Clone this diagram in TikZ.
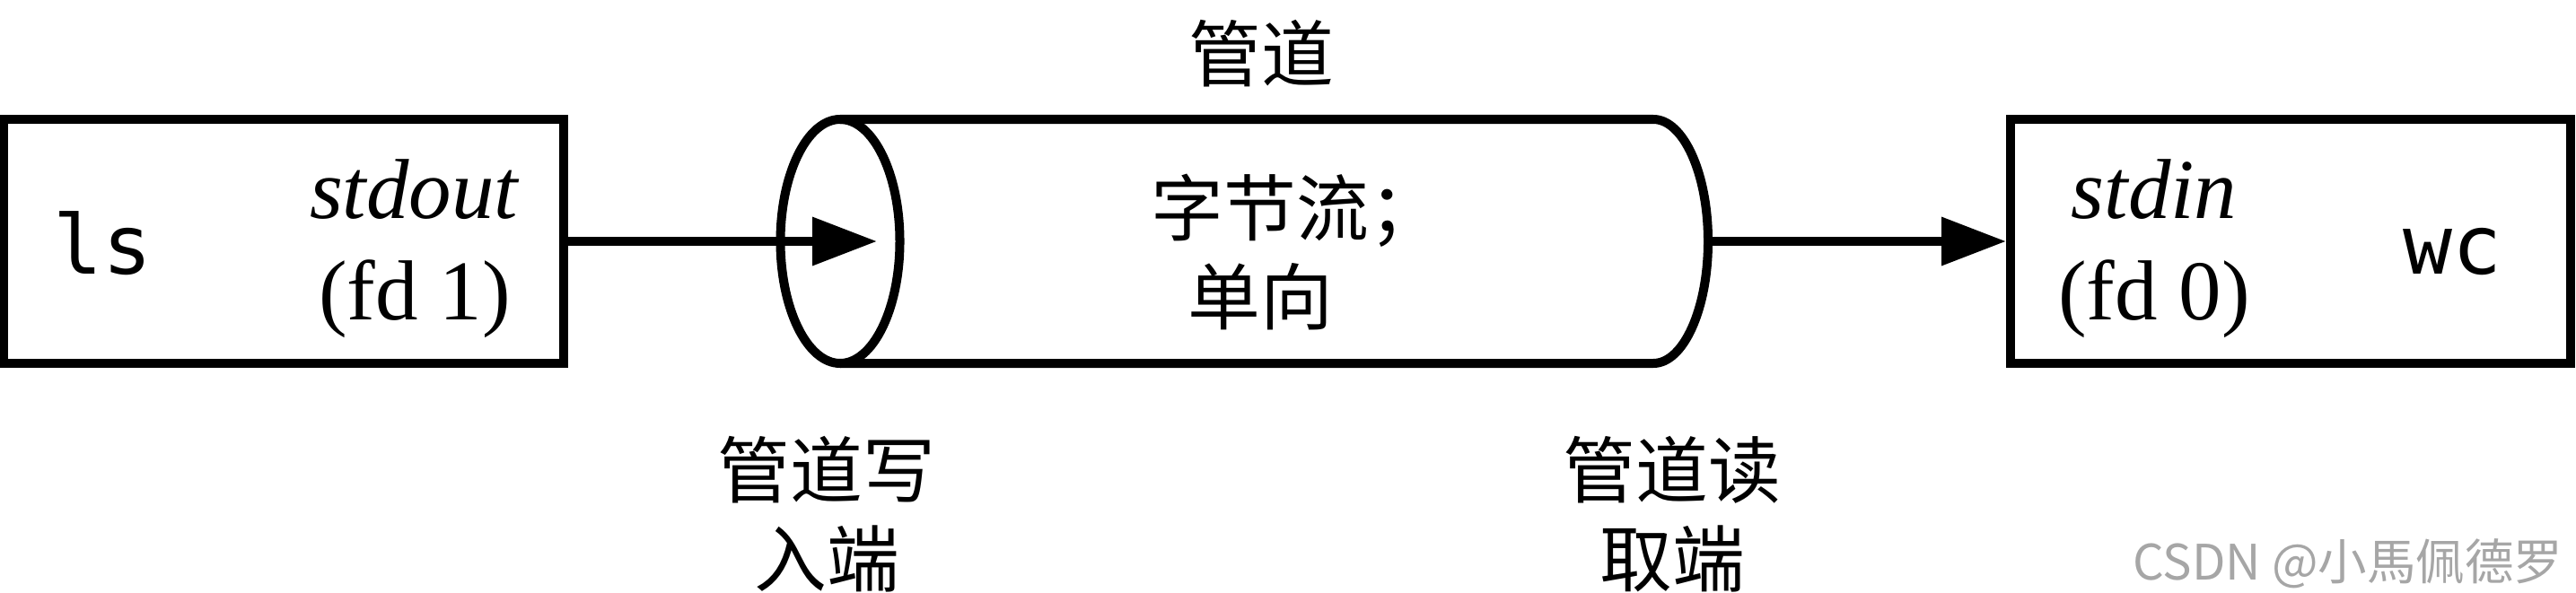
\documentclass[tikz,border=0pt]{standalone}
\usepackage{fontspec}
\setmainfont{Liberation Serif}
\setmonofont{DejaVu Sans Mono}
\newfontfamily\cjk{Noto Sans CJK SC}
\usetikzlibrary{arrows.meta}

\begin{document}
\begin{tikzpicture}[line width=2.85pt,>={Triangle[length=7.2mm,width=5.2mm]},
  procbox/.style={draw,minimum width=6.24cm,minimum height=2.72cm,inner sep=0pt},
  fdtext/.style={font=\fontsize{27}{32}\selectfont,align=center,inner sep=0pt},
  cmdtext/.style={font=\fontsize{26}{30}\selectfont\ttfamily,inner sep=0pt},
  cjktext/.style={font=\fontsize{23}{28}\selectfont\cjk,align=center,inner sep=0pt}]
  \useasboundingbox (0,0) rectangle (28.7,6.6);
  % the two processes
  \node[procbox] (lsbox) at (3.16,3.91) {};
  \node[procbox] (wcbox) at (25.52,3.91) {};
  \node[cmdtext] (ls) at (1.15,3.89) {ls};
  \node[cmdtext] (wc) at (27.32,3.79) {wc};
  \node[fdtext] (stdout) at (4.62,3.83) {\textit{stdout}\\(fd 1)};
  \node[fdtext] (stdin) at (24.00,3.83) {\textit{stdin}\\(fd 0)};
  % the pipe
  \draw (9.36,3.91) ellipse[x radius=0.665,y radius=1.36];
  \draw (9.36,5.27) -- (18.42,5.27) arc[start angle=90,end angle=-90,x radius=0.61,y radius=1.36] -- (9.36,2.55);
  \coordinate (wend) at (9.77,3.91);
  \coordinate (rend) at (19.03,3.91);
  \draw[->] (lsbox.east) -- (wend);
  \draw[->] (rend) -- (wcbox.west);
  % labels
  \node[cjktext] (pipe) at (14.05,6.00) {管道};
  \node[cjktext] (stream) at (14.04,3.79) {字节流\rlap{；}\\单向};
  \node[cjktext] (wrend) at (9.21,0.87) {管道写\\入端};
  \node[cjktext] (rdend) at (18.63,0.87) {管道读\\取端};
  \node[anchor=east,inner sep=0pt,text=black!35,font=\fontsize{15.5}{18}\selectfont\cjk] (mark) at (28.60,0.32) {CSDN @小馬佩德罗};
\end{tikzpicture}
\end{document}
